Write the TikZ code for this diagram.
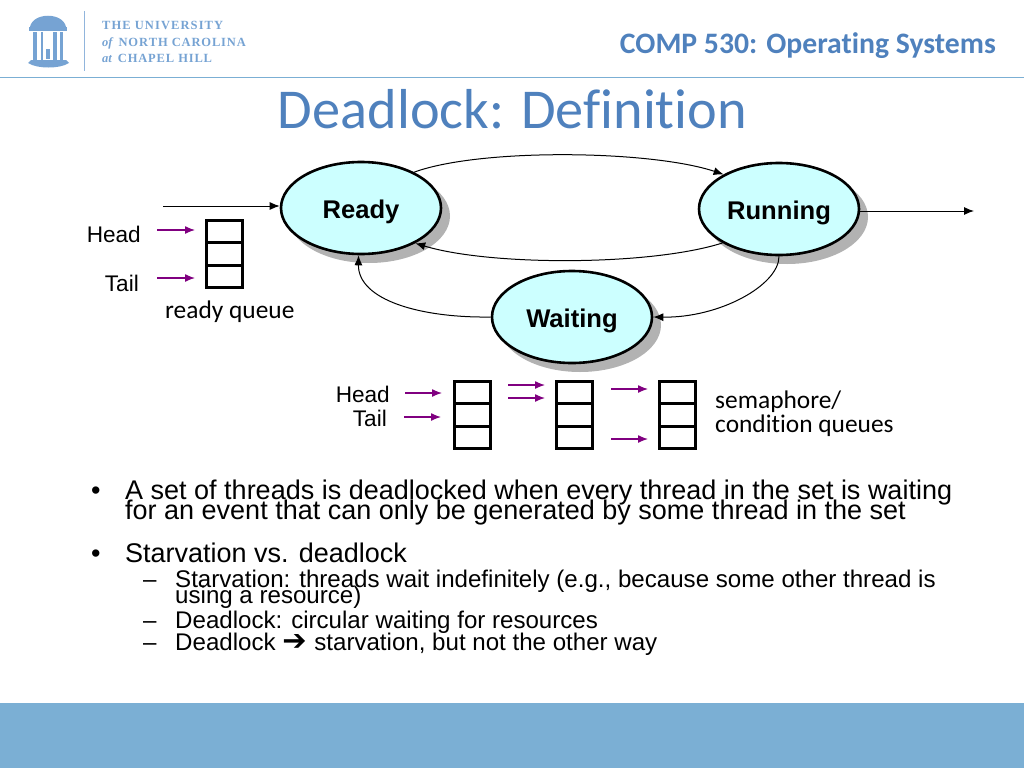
\documentclass[tikz,border=0pt]{standalone}
\usepackage{fontspec}
\setmainfont{Liberation Sans}
\newfontfamily\carlito[Ligatures=NoCommon]{Carlito}
\newfontfamily\logofont{Liberation Serif}
\newfontfamily\symfont{DejaVu Sans}
\usetikzlibrary{shapes.geometric,arrows.meta}
\definecolor{uncblue}{HTML}{7BAFD4}
\definecolor{titleblue}{HTML}{4F81BD}
\definecolor{logoblue}{HTML}{76A3D3}
\definecolor{statefill}{HTML}{CCFFFF}
\definecolor{queuearrow}{HTML}{800080}
\tikzset{
  state/.style={ellipse, draw=black, line width=2.6pt, fill=statefill, minimum width=160pt, minimum height=92pt, inner sep=0pt, text height=21pt, text depth=0pt, font=\fontsize{25.6}{28}\selectfont\bfseries},
  stateshadow/.style={ellipse, fill=black!30, minimum width=162pt, minimum height=94pt, inner sep=0pt},
  flow/.style={line width=1pt, -{Latex[length=10pt,width=8pt]}},
  ptr/.style={line width=1.3pt, queuearrow, -{Latex[length=10pt,width=8pt]}},
  cell/.style={rectangle, draw=black, line width=3pt, minimum width=36pt, minimum height=22.5pt, inner sep=0pt},
  label/.style={inner sep=0pt, font=\fontsize{22.6}{26}\selectfont},
  note/.style={inner sep=0pt, anchor=base west, font=\carlito\fontsize{25.4}{26}\selectfont},
  logotext/.style={inner sep=0pt, anchor=base west, text=logoblue, font=\logofont\bfseries\fontsize{12.5}{13}\selectfont},
  para/.style={inner sep=0pt, anchor=base west, font=\fontsize{27}{30}\selectfont},
  subpara/.style={inner sep=0pt, anchor=base west, font=\fontsize{24.1}{28}\selectfont},
}
\begin{document}
\begin{tikzpicture}[x=1pt,y=-1pt]
  \useasboundingbox (0,0) rectangle (1024,768);
  % header and footer
  \fill[uncblue] (0,703) rectangle (1024,768);
  \draw[uncblue, line width=1.5pt] (0,77.5) -- (1024,77.5);
  \draw[logoblue!80, line width=0.8pt] (84,11) -- (84,71);
  \fill[logoblue] (30,27) .. controls (33,12) and (63,12) .. (66,27) -- cycle;
  \fill[logoblue] (29,27.5) rectangle (67,31);
  \fill[logoblue] (33,32) rectangle (37,60);
  \fill[logoblue] (40.5,32) rectangle (43,60);
  \fill[logoblue] (53,32) rectangle (57,60);
  \fill[logoblue] (60,32) rectangle (62.5,60);
  \fill[logoblue] (46,49) rectangle (50,59);
  \fill[logoblue] (31,60) -- (66,60) -- (69,63) .. controls (60,69) and (37,69) .. (28,63) -- cycle;
  \node[logotext] (unc1) at (102,30) {T\kern1.1pt H\kern1.1pt E\kern4pt U\kern1.1pt N\kern1.1pt I\kern1.1pt V\kern1.1pt E\kern1.1pt R\kern1.1pt S\kern1.1pt I\kern1.1pt T\kern1.1pt Y};
  \node[logotext] (unc2) at (102,46.5) {{\itshape of}\kern6pt N\kern.85pt O\kern.85pt R\kern.85pt T\kern.85pt H\kern4pt C\kern.85pt A\kern.85pt R\kern.85pt O\kern.85pt L\kern.85pt I\kern.85pt N\kern.85pt A};
  \node[logotext] (unc3) at (102,63) {{\itshape at}\kern6pt C\kern.85pt H\kern.85pt A\kern.85pt P\kern.85pt E\kern.85pt L\kern4pt H\kern.85pt I\kern.85pt L\kern.85pt L};
  \node[inner sep=0pt, text=titleblue, anchor=base east, font=\carlito\bfseries\fontsize{29.7}{32}\selectfont] (course) at (996,53) {COMP 530: Operating Systems};
  \node[inner sep=0pt, text=titleblue, anchor=base, font=\carlito\fontsize{56.3}{60}\selectfont] (title) at (512.5,128) {Deadlock: Definition};
  % states
  \node[stateshadow] at (369,216) {};
  \node[stateshadow] at (787,217) {};
  \node[stateshadow] at (580,325) {};
  \node[state] (ready) at (361,208) {Ready};
  \node[state] (running) at (779,209) {Running};
  \node[state] (waiting) at (572,317) {Waiting};
  \coordinate (enter) at (163,206);
  \coordinate (leave) at (974,211);
  \draw[flow] (enter) -- (ready.west |- enter);
  \draw[flow] (running.east |- leave) -- (leave);
  \draw[flow] (ready.34) .. controls (480,148) and (650,150) .. (running.148);
  \draw[flow] (running.211) .. controls (650,266) and (490,266) .. (ready.327);
  \draw[flow] (running.south) .. controls (779,285) and (720,318) .. (waiting.east);
  \draw[flow] (waiting.west) .. controls (420,318) and (358,300) .. (ready.267);
  % ready queue
  \node[cell] (r1) at (224.5,231.5) {};
  \node[cell] (r2) at (224.5,254) {};
  \node[cell] (r3) at (224.5,276.5) {};
  \node[label, anchor=east] (rhead) at (141,234) {Head};
  \node[label, anchor=east] (rtail) at (139,283) {Tail};
  \coordinate (rp1) at (157,230);
  \coordinate (rp2) at (157,278);
  \draw[ptr] (rp1) -- ++(38,0);
  \draw[ptr] (rp2) -- ++(38,0);
  \node[note] (rname) at (165,318) {ready queue};
  % semaphore queues
  \node[cell] (a1) at (472,392.5) {};
  \node[cell] (a2) at (472,415) {};
  \node[cell] (a3) at (472,437.5) {};
  \node[cell] (b1) at (574,392.5) {};
  \node[cell] (b2) at (574,415) {};
  \node[cell] (b3) at (574,437.5) {};
  \node[cell] (c1) at (677,392.5) {};
  \node[cell] (c2) at (677,415) {};
  \node[cell] (c3) at (677,437.5) {};
  \node[label, anchor=east] (shead) at (390,394) {Head};
  \node[label, anchor=east] (stail) at (387,418) {Tail};
  \coordinate (ap1) at (405,393);
  \coordinate (ap2) at (404,417);
  \coordinate (bp1) at (508,385);
  \coordinate (bp2) at (508,398);
  \coordinate (cp1) at (611,389);
  \coordinate (cp2) at (611,439);
  \draw[ptr] (ap1) -- ++(37,0);
  \draw[ptr] (ap2) -- ++(37,0);
  \draw[ptr] (bp1) -- ++(37,0);
  \draw[ptr] (bp2) -- ++(37,0);
  \draw[ptr] (cp1) -- ++(37,0);
  \draw[ptr] (cp2) -- ++(37,0);
  \node[note] (sname1) at (715,408) {semaphore/};
  \node[note] (sname2) at (715,432) {condition queues};
  % bullets
  \node[para] (dot1) at (91,499) {•};
  \node[para] (text1a) at (125,499) {A set of threads is deadlocked when every thread in the set is waiting};
  \node[para] (text1b) at (125,519) {for an event that can only be generated by some thread in the set};
  \node[para] (dot2) at (91,562) {•};
  \node[para] (text2) at (125,562) {Starvation vs. deadlock};
  \node[subpara] (dash1) at (143,587) {–};
  \node[subpara] (sub1a) at (175,587) {Starvation: threads wait indefinitely (e.g., because some other thread is};
  \node[subpara] (sub1b) at (175,603) {using a resource)};
  \node[subpara] (dash2) at (143,628) {–};
  \node[subpara] (sub2) at (175,628) {Deadlock: circular waiting for resources};
  \node[subpara] (dash3) at (143,650) {–};
  \node[subpara] (sub3) at (175,650) {Deadlock {\symfont\bfseries\fontsize{29}{28}\selectfont ➔}\kern1pt{} starvation, but not the other way};
\end{tikzpicture}
\end{document}
